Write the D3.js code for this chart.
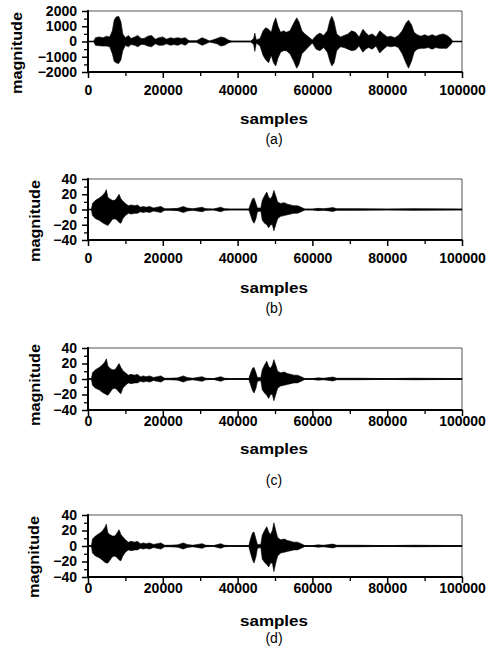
<!DOCTYPE html>
<html>
<head>
<meta charset="utf-8">
<script src="https://cdn.jsdelivr.net/npm/d3@7"></script>
<style>
  html, body { margin: 0; padding: 0; background: #fff; }
  svg { display: block; }
  text { font-family: "Liberation Sans", Arial, Helvetica, sans-serif; fill: #000; }
</style>
</head>
<body>
<svg id="chart" width="497" height="655"></svg>
<script>
// ---------------- DATA ----------------
const xMajorTicks = [0, 20000, 40000, 60000, 80000, 100000];
const xMinorTicks = [10000, 30000, 50000, 70000, 90000];
const yTicksA = [-2000, -1000, 0, 1000, 2000];
const yMinorA = [-1500, -500, 500, 1500];
const yTicksB = [-40, -20, 0, 20, 40];
const yMinorB = [-30, -10, 10, 30];
const captions = ["(a)", "(b)", "(c)", "(d)"];
const xLabel = "samples";
const yLabel = "magnitude";

// Panel (a): envelope of original signal (sample index, upper, lower)
const samplesA = [0,1500,2000,3000,4000,5000,5800,6500,7000,7500,8200,8800,9300,10000,10800,11500,12500,13300,14200,15000,16000,17000,18000,19000,20000,21000,22000,23000,24000,25000,26000,27000,29000,30500,31500,32500,34500,35500,36500,37500,38500,43500,44300,44600,45000,46000,46800,47500,48300,49000,49600,50200,50800,51500,52300,53000,54000,55000,55800,56400,57200,58000,59000,60000,61000,62000,63000,64000,64700,65200,65800,66500,67500,68500,69500,70500,71500,72500,73500,74200,75000,76000,77000,78000,79000,80000,81000,82000,83000,84000,85000,85700,86500,87200,88000,89000,90000,91000,92000,93000,94000,95000,96000,97000,97500,100000];
const upperA = [0,0,250,300,250,350,300,700,1400,1600,1650,1300,500,250,400,200,300,400,200,200,350,400,150,250,300,150,250,200,250,200,250,50,50,250,150,30,200,300,250,100,20,20,200,550,100,200,700,900,800,600,1200,1550,1000,600,700,600,700,1200,1550,1300,700,500,300,100,400,550,400,700,1400,1650,1300,500,300,400,500,700,600,300,800,600,400,500,300,700,500,300,350,250,400,700,1200,1400,1100,600,450,350,450,350,450,350,450,500,400,200,0,0];
const lowerA = [0,0,-250,-280,-300,-300,-350,-800,-1300,-1400,-1450,-1200,-600,-250,-350,-200,-250,-350,-200,-200,-300,-350,-150,-250,-250,-150,-250,-200,-250,-150,-250,-50,-50,-250,-150,-30,-150,-300,-250,-100,-20,-20,-200,-650,-100,-300,-900,-1200,-1400,-900,-1400,-1600,-1100,-700,-600,-600,-800,-1300,-1750,-1500,-800,-600,-350,-100,-500,-600,-400,-700,-1300,-1600,-1400,-600,-350,-400,-500,-600,-550,-300,-700,-500,-400,-500,-300,-750,-500,-300,-350,-300,-400,-800,-1400,-1750,-1300,-700,-500,-450,-450,-400,-500,-400,-450,-450,-450,-200,0,0];

// Panels (b), (c), (d): share sample positions
const samplesBCD = [0,900,1200,2000,3000,3800,4500,4900,5300,5800,6500,7200,7800,8300,8800,9300,10000,10800,11500,12500,13200,14000,14800,15500,16500,17500,18500,19500,20500,22000,24000,25500,26500,28000,30500,31500,33500,35500,36500,38000,43000,43500,44000,44400,44900,45300,46200,46600,47200,47800,48300,48800,49300,49700,50200,50700,51500,52500,53300,54200,55000,56000,57000,58000,60000,61500,63000,65500,66500,72000,80000,87000,100000];
const upperB = [0,0,8,12,15,18,22,26,16,14,12,12,16,20,14,11,8,5,6,5,6,3,4,3,4,2,3,4,1,1,1.5,4,2,1,3,1,0.5,3,1,0.5,0.5,8,14,15,8,2,2,12,18,23,16,14,18,25,18,10,8,9,7,6,5,5,3,0.5,0.5,1.5,1,2.5,1,1,0.5,1,0.5];
const lowerB = [0,0,-8,-12,-14,-17,-19,-20,-21,-18,-13,-12,-14,-17,-18,-12,-8,-5,-6,-5,-5,-3,-4,-3,-4,-2,-3,-4,-1,-1,-1.5,-4,-2,-1,-3,-1,-0.5,-3,-1,-0.5,-0.5,-8,-15,-18,-12,-3,-2,-14,-18,-20,-24,-20,-20,-28,-20,-12,-9,-8,-7,-6,-5,-5,-3,-0.5,-0.5,-1.5,-1,-2.5,-1,-1,-0.5,-1,-0.5];
const upperC = [0,0,8,12,15,18,22,26,17,14,12,12,16,20,15,11,8,5,6,5,6,3,4,3,4,2,3,4,1,1,1.5,4,2,1,3,1,0.5,3,1,0.5,0.5,8,14,15,8,2,2,12,18,23,16,14,18,25,18,10,8,9,7,6,5,5,3,0.5,0.5,1.5,1,2.5,1,1,0.5,1,0.5];
const lowerC = [0,0,-8,-12,-14,-17,-19,-20,-21,-18,-13,-12,-14,-17,-19,-12,-8,-5,-6,-5,-5,-3,-4,-3,-4,-2,-3,-4,-1,-1,-1.5,-4,-2,-1,-3,-1,-0.5,-3,-1,-0.5,-0.5,-8,-15,-18,-12,-3,-2,-14,-18,-21,-25,-20,-20,-28,-20,-12,-9,-8,-7,-6,-5,-5,-3,-0.5,-0.5,-1.5,-1,-2.5,-1,-1,-0.5,-1,-0.5];
const upperD = [0,0,9,13,16,19,24,28,17,15,13,13,17,21,15,12,8,5,6,5,6,3,4,3,4,2,3,4,1,1,1.5,4,2,1,3,1,0.5,3,1,0.5,0.5,10,17,18,9,2,2,14,20,25,18,15,20,30,20,11,8,9,7,6,5,5,3,0.5,0.5,1.5,1,2.5,1,1,0.5,1,0.5];
const lowerD = [0,0,-9,-13,-15,-18,-21,-22,-22,-19,-14,-13,-15,-18,-19,-13,-8,-5,-6,-5,-5,-3,-4,-3,-4,-2,-3,-4,-1,-1,-1.5,-4,-2,-1,-3,-1,-0.5,-3,-1,-0.5,-0.5,-10,-18,-22,-14,-3,-2,-17,-21,-24,-27,-22,-22,-33,-22,-13,-9,-8,-7,-6,-5,-5,-3,-0.5,-0.5,-1.5,-1,-2.5,-1,-1,-0.5,-1,-0.5];

// ---------------- LAYOUT ----------------
const plotLeft = 88, plotRight = 462;
const panels = [
  { samples: samplesA, upper: upperA, lower: lowerA, yTicks: yTicksA, yMinor: yMinorA, yDomain: [-2000, 2000],
    top: 11, bottom: 72, xPad: 7, samplesY: 124, captionY: 143.5, magX: 22, magY: 53 },
  { samples: samplesBCD, upper: upperB, lower: lowerB, yTicks: yTicksB, yMinor: yMinorB, yDomain: [-40, 40],
    top: 179, bottom: 240, xPad: 7.5, samplesY: 293, captionY: 313, magX: 40, magY: 221 },
  { samples: samplesBCD, upper: upperC, lower: lowerC, yTicks: yTicksB, yMinor: yMinorB, yDomain: [-40, 40],
    top: 348, bottom: 410, xPad: 0, samplesY: 454, captionY: 485, magX: 40, magY: 385 },
  { samples: samplesBCD, upper: upperD, lower: lowerD, yTicks: yTicksB, yMinor: yMinorB, yDomain: [-40, 40],
    top: 515, bottom: 577, xPad: 0.5, samplesY: 626, captionY: 643, magX: 39, magY: 557 }
];

const svg = d3.select("#chart");
svg.append("rect").attr("width", 497).attr("height", 655).attr("fill", "#fff");

const x = d3.scaleLinear().domain([0, 100000]).range([plotLeft, plotRight]);

panels.forEach((p, i) => {
  const y = d3.scaleLinear().domain(p.yDomain).range([p.bottom, p.top]);
  const g = svg.append("g");
  const pts = p.samples.map((s, k) => ({ s, hi: p.upper[k], lo: p.lower[k] }));

  // top & right thin frame
  g.append("line").attr("x1", plotLeft).attr("x2", plotRight).attr("y1", p.top).attr("y2", p.top)
    .attr("stroke", "#555").attr("stroke-width", 1);
  g.append("line").attr("x1", plotRight).attr("x2", plotRight).attr("y1", p.top).attr("y2", p.bottom)
    .attr("stroke", "#555").attr("stroke-width", 1);

  // zero line
  g.append("line").attr("x1", plotLeft).attr("x2", plotRight).attr("y1", y(0)).attr("y2", y(0))
    .attr("stroke", "#000").attr("stroke-width", 1.3);

  // waveform envelope
  const area = d3.area().x(d => x(d.s)).y0(d => y(d.lo)).y1(d => y(d.hi)).curve(d3.curveLinear);
  g.append("path").datum(pts).attr("d", area).attr("fill", "#000").attr("stroke", "#000").attr("stroke-width", 0.6);

  // x axis major
  const xa = g.append("g").attr("transform", `translate(0,${p.bottom})`)
    .call(d3.axisBottom(x).tickValues(xMajorTicks).tickSize(6).tickSizeOuter(0).tickPadding(p.xPad).tickFormat(d3.format("d")));
  xa.select(".domain").remove();
  xa.selectAll(".tick line").attr("stroke", "#000").attr("stroke-width", 1.5);
  xa.selectAll(".tick text").style("font-size", "14px").style("font-weight", "bold")
    .style("font-family", '"Liberation Sans", Arial, sans-serif').attr("fill", "#000");
  // x axis minor
  const xm = g.append("g").attr("transform", `translate(0,${p.bottom})`)
    .call(d3.axisBottom(x).tickValues(xMinorTicks).tickSize(4).tickSizeOuter(0).tickFormat(""));
  xm.select(".domain").remove();
  xm.selectAll(".tick line").attr("stroke", "#000").attr("stroke-width", 1.3);

  // y axis major
  const ya = g.append("g").attr("transform", `translate(${plotLeft},0)`)
    .call(d3.axisLeft(y).tickValues(p.yTicks).tickSize(6).tickSizeOuter(0).tickPadding(5).tickFormat(d3.format("d")));
  ya.select(".domain").remove();
  ya.selectAll(".tick line").attr("stroke", "#000").attr("stroke-width", 1.5);
  ya.selectAll(".tick text").style("font-size", "14px").style("font-weight", "bold")
    .style("font-family", '"Liberation Sans", Arial, sans-serif').attr("fill", "#000");
  // y axis minor
  const ym = g.append("g").attr("transform", `translate(${plotLeft},0)`)
    .call(d3.axisLeft(y).tickValues(p.yMinor).tickSize(4).tickSizeOuter(0).tickFormat(""));
  ym.select(".domain").remove();
  ym.selectAll(".tick line").attr("stroke", "#000").attr("stroke-width", 1.3);

  // thick left and bottom axis lines
  g.append("line").attr("x1", plotLeft).attr("x2", plotLeft).attr("y1", p.top - 1).attr("y2", p.bottom + 1)
    .attr("stroke", "#000").attr("stroke-width", 2);
  g.append("line").attr("x1", plotLeft - 1).attr("x2", plotRight + 0.5).attr("y1", p.bottom).attr("y2", p.bottom)
    .attr("stroke", "#000").attr("stroke-width", 2);

  // labels
  g.append("text").attr("x", (plotLeft + plotRight) / 2 - 1).attr("y", p.samplesY)
    .attr("text-anchor", "middle").style("font-size", "15px").style("font-weight", "bold")
    .attr("textLength", 68).attr("lengthAdjust", "spacingAndGlyphs").text(xLabel);
  g.append("text").attr("x", (plotLeft + plotRight) / 2 - 1).attr("y", p.captionY)
    .attr("text-anchor", "middle").style("font-size", "14px").text(captions[i]);
  g.append("text").attr("transform", `translate(${p.magX},${p.magY}) rotate(-90)`)
    .attr("text-anchor", "middle").style("font-size", "15px").style("font-weight", "bold")
    .attr("textLength", 82).attr("lengthAdjust", "spacingAndGlyphs").text(yLabel);
});
</script>
</body>
</html>
